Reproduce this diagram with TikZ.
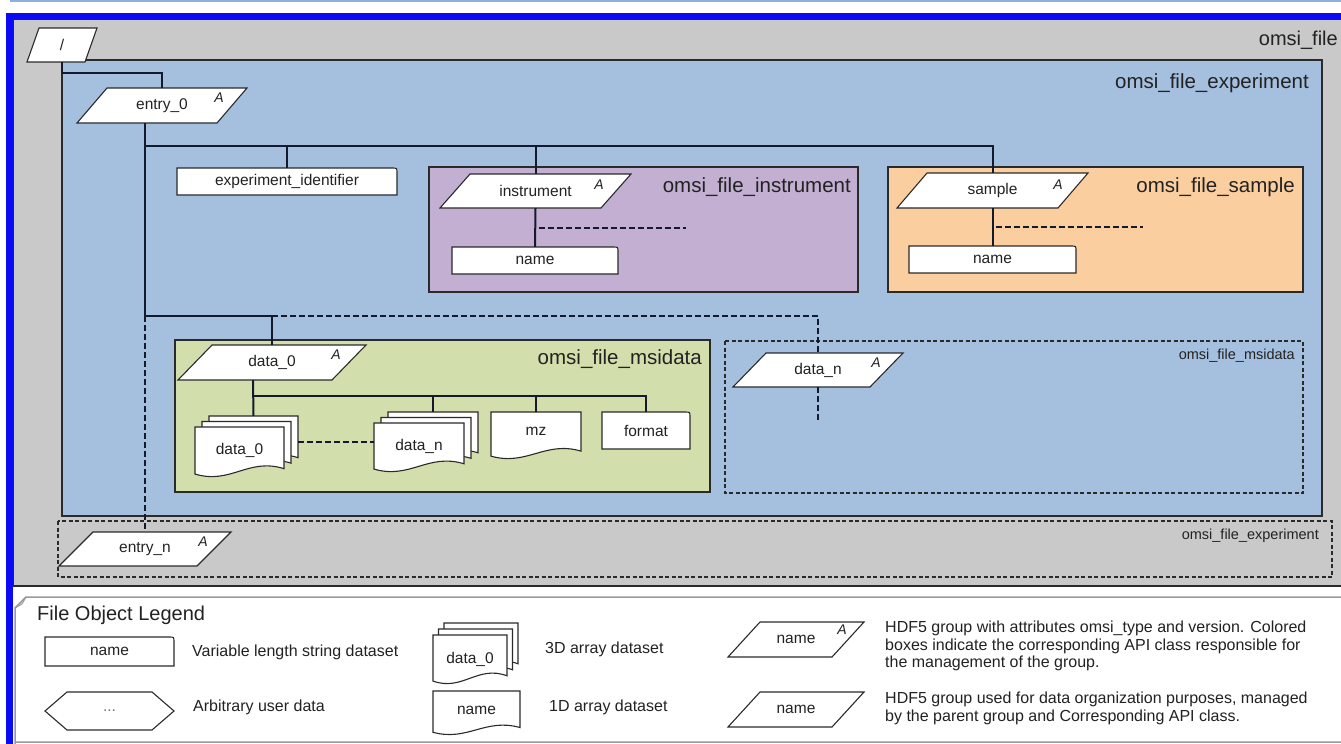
\documentclass[tikz,border=0pt]{standalone}
\usepackage{fontspec}
\setmainfont{Liberation Sans}
\usetikzlibrary{calc}
\definecolor{fileGray}{HTML}{C9C9C9}
\definecolor{expBlue}{HTML}{A5C0DF}
\definecolor{instPurple}{HTML}{C2AFD2}
\definecolor{sampOrange}{HTML}{FBCEA0}
\definecolor{msiGreen}{HTML}{D2DFAC}
\definecolor{frameBlue}{HTML}{0A0AF5}
\definecolor{topBlue}{HTML}{8AB0DC}
\definecolor{lineDark}{HTML}{14192B}
\definecolor{edgeDark}{HTML}{2A2A2A}
\definecolor{legendEdge}{HTML}{9A9A9A}
\definecolor{textDark}{HTML}{222222}

\tikzset{
 tree/.style={draw=lineDark, line width=2pt},
 treedash/.style={tree, dash pattern=on 6pt off 3pt},
 box/.style={draw=edgeDark, line width=1.5pt},
 dashbox/.style={draw=edgeDark, line width=1.4pt, dash pattern=on 4pt off 2.5pt},
 shp/.style={draw=edgeDark, line width=1.1pt, fill=white},
 txt/.style={inner sep=0pt, font=\fontsize{15.5}{18}\selectfont, text=textDark},
 hit/.style={inner sep=0pt},
 atag/.style={inner sep=0pt, font=\fontsize{14}{16}\selectfont\itshape, text=textDark},
 biglabel/.style={inner sep=0pt, anchor=east, font=\fontsize{20.5}{24}\selectfont, text=textDark},
 smalllabel/.style={inner sep=0pt, anchor=east, font=\fontsize{14.5}{17}\selectfont, text=textDark},
 legtxt/.style={inner sep=0pt, anchor=west, align=left, font=\fontsize{16}{17.8}\selectfont, text=textDark},
}

% parallelogram: x0 y0 x1 y1 offset
\newcommand{\paraShape}[5]{\draw[shp] (#1,#4) -- ({#3-#5},#4) -- (#3,#2) -- ({#1+#5},#2) -- cycle;}
% string dataset box with rounded top-right corner
\newcommand{\strShape}[4]{\draw[shp] (#1,#4) -- (#1,#2) -- ({#3-5},#2) .. controls (#3,#2) .. (#3,{#2+5}) -- (#3,#4) -- cycle;}
% document shape with wavy bottom
\newcommand{\docShape}[4]{\draw[shp] (#1,#2) -- (#3,#2) -- (#3,{#4-0.15*(#4-#2)}) .. controls ({#1+0.6*(#3-#1)},{#4-0.38*(#4-#2)}) and ({#1+0.4*(#3-#1)},{#4+0.18*(#4-#2)}) .. (#1,{#4-0.04*(#4-#2)}) -- cycle;}

\begin{document}
\begin{tikzpicture}[x=1pt,y=-1pt]
\useasboundingbox (0,0) rectangle (1341,744);
\clip (0,0) rectangle (1341,744);
\fill[white] (0,0) rectangle (1341,744);

% frame
\fill[topBlue] (10,0) rectangle (1341,1.6);
\fill[frameBlue] (6,12.7) rectangle (1341,18.6);
\fill[frameBlue] (6,12.7) rectangle (12.8,744);

% omsi_file
\draw[draw=edgeDark, line width=1.3pt, fill=fileGray] (13.8,19.4) rectangle (1350,586);
\node[biglabel, font=\fontsize{20}{24}\selectfont] (lfile) at (1338,40) {omsi\_file};

% omsi_file_experiment
\draw[box, fill=expBlue] (62,60) rectangle (1322,516);
\node[biglabel] (lexp) at (1309,83) {omsi\_file\_experiment};

% instrument box
\draw[box, fill=instPurple] (429,167) rectangle (858,292);
\node[biglabel] (linst) at (851,187) {omsi\_file\_instrument};

% sample box
\draw[box, fill=sampOrange] (888,167) rectangle (1303,292);
\node[biglabel] (lsamp) at (1295,187) {omsi\_file\_sample};

% msidata box
\draw[box, fill=msiGreen] (175,340) rectangle (710,492);
\node[biglabel] (lmsi) at (702,359) {omsi\_file\_msidata};

% second msidata (dashed)
\draw[dashbox] (725,341) rectangle (1303,493);
\node[smalllabel] (lmsi2) at (1295,356) {omsi\_file\_msidata};

% second experiment (dashed)
\draw[dashbox] (58,521) rectangle (1332,577);
\node[smalllabel] (lexp2) at (1319,536) {omsi\_file\_experiment};

% root
\paraShape{27}{28}{97}{62}{12}
\node[txt, minimum width=70pt, minimum height=34pt] (root) at (62,45) {/};

% entry_0
\paraShape{77}{88}{247}{123}{30}
\node[txt, minimum width=170pt, minimum height=35pt] (entry0) at (162,105.5) {entry\_0};
\node[atag] (entry0A) at (219,98) {A};

% experiment_identifier
\strShape{177}{168}{397}{195}
\node[txt, minimum width=220pt, minimum height=27pt] (expid) at (287,181.5) {experiment\_identifier};

% instrument
\paraShape{440}{174}{631}{208}{30}
\node[txt, minimum width=191pt, minimum height=34pt] (instr) at (535.5,191) {instrument};
\node[atag] (instrA) at (599,185) {A};
\strShape{452}{247}{618}{274}
\node[txt, minimum width=166pt, minimum height=27pt] (iname) at (535,260.5) {name};

% sample
\paraShape{897}{173}{1088}{208}{30}
\node[txt, minimum width=191pt, minimum height=35pt] (sample) at (992.5,190.5) {sample};
\node[atag] (sampleA) at (1058,185) {A};
\strShape{909}{246}{1076}{273}
\node[txt, minimum width=167pt, minimum height=27pt] (sname) at (992.5,259.5) {name};

% data_0 group
\paraShape{178}{345}{366}{380}{34}
\node[txt, minimum width=188pt, minimum height=35pt] (data0) at (272,362.5) {data\_0};
\node[atag] (data0A) at (336,355) {A};

% data_0 stack
\docShape{209}{416}{298}{465}
\docShape{202}{421.5}{291}{470.5}
\docShape{195}{427}{284}{476}
\node[txt, minimum width=89pt, minimum height=46pt] (ds0) at (239.5,450) {data\_0};
\node[hit, minimum width=89pt, minimum height=49pt] (ds0b) at (253.5,440.5) {};

% data_n stack
\docShape{388}{412}{478}{460}
\docShape{381}{417.5}{471}{465.5}
\docShape{374}{423}{464}{471}
\node[txt, minimum width=90pt, minimum height=46pt] (dsn) at (419,446) {data\_n};
\node[hit, minimum width=90pt, minimum height=48pt] (dsnb) at (433,436) {};

% mz
\docShape{491}{412}{581}{458}
\node[txt, minimum width=90pt, minimum height=38pt] (mz) at (536,431) {mz};

% format
\strShape{602}{412}{690}{449}
\node[txt, minimum width=88pt, minimum height=37pt] (fmt) at (646,430.5) {format};

% data_n group
\paraShape{733}{353}{903}{387}{33}
\node[txt, minimum width=170pt, minimum height=34pt] (datan) at (818,370) {data\_n};
\node[atag] (datanA) at (876,363) {A};

% entry_n
\paraShape{59}{532}{231}{566}{34}
\node[txt, minimum width=172pt, minimum height=34pt] (entryn) at (145,549) {entry\_n};
\node[atag] (entrynA) at (203,542) {A};

% ---- connectors
\coordinate (busL) at (145,146);
\coordinate (busM) at (145,316);
\coordinate (dashY) at (0,442);
\draw[tree] (root.south) -- ++(0,11) -| (entry0.north);
\draw[tree] ([xshift=-17pt]entry0.south) -- (busL) -| (sample.north);
\draw[tree] (busL -| expid.north) -- (expid.north);
\draw[tree] (busL -| instr.north) -- (instr.north);
\draw[tree] (busL) -- (busM) -| (data0.north);
\draw[treedash] (busM -| data0.north) -| (datan.north);
\draw[treedash] (busM) -- (entryn.north);
\draw[treedash] (datan.south) -- ++(0,33);

\draw[tree] (instr.south) -- (iname.north);
\draw[treedash] ([shift={(3,20)}]instr.south) -- ++(147,0);
\draw[tree] (sample.south) -- (sname.north);
\draw[treedash] ([shift={(3,19)}]sample.south) -- ++(147,0);

\coordinate (dbus) at ([xshift=-19pt,yshift=-16pt]data0.south);
\draw[tree] ([xshift=-19pt]data0.south) -- (ds0b.north);
\draw[tree] (dbus) -| (fmt.north);
\draw[tree] (dbus -| dsnb.north) -- (dsnb.north);
\draw[tree] (dbus -| mz.north) -- (mz.north);
\draw[treedash] (ds0b.east |- dashY) -- (dsn.west |- dashY);

% ---- legend
\draw[draw=legendEdge, line width=1.5pt, fill=white] (15,745) -- (15,608) -- (26,597) -- (1350,597) -- (1350,742) -- (15,742);
\draw[draw=legendEdge, line width=1pt] (15,608) -- (22,604) -- (26,597);
\node[legtxt, font=\fontsize{20}{24}\selectfont] (legtitle) at (37,615) {File Object Legend};

\strShape{45}{637}{174}{666}
\node[txt, minimum width=129pt, minimum height=29pt] (lgname) at (109.5,651.5) {name};
\node[legtxt] (lgvar) at (192,652) {Variable length string dataset};

\draw[shp] (45,711) -- (67,692) -- (152,692) -- (174,711) -- (152,730) -- (67,730) -- cycle;
\node[txt, minimum width=129pt, minimum height=38pt, text=black!55] (lghex) at (109.5,711) {...};
\node[legtxt] (lgarb) at (193,707) {Arbitrary user data};

\docShape{444}{623}{518}{671}
\docShape{438.5}{629}{512.5}{677}
\docShape{433}{635}{507}{683}
\node[txt, minimum width=74pt, minimum height=44pt] (lgstack) at (470,659) {data\_0};
\node[legtxt] (lg3d) at (545,649) {3D array dataset};

\docShape{433}{691}{520}{734}
\node[txt, minimum width=87pt, minimum height=36pt] (lgdoc) at (476.5,710) {name};
\node[legtxt] (lg1d) at (549,707) {1D array dataset};

\paraShape{728}{622}{864}{657}{32}
\node[txt, minimum width=136pt, minimum height=35pt] (lgpa) at (796,639.5) {name};
\node[atag] (lgpaA) at (842,630) {A};
\node[legtxt] (lgpatxt) at (885,646) {HDF5 group with attributes omsi\_type and version. Colored\\boxes indicate the corresponding API class responsible for\\the management of the group.};

\paraShape{728}{692}{864}{727}{32}
\node[txt, minimum width=136pt, minimum height=35pt] (lgpb) at (796,709.5) {name};
\node[legtxt] (lgpbtxt) at (885,708) {HDF5 group used for data organization purposes, managed\\by the parent group and Corresponding API class.};
\end{tikzpicture}
\end{document}
